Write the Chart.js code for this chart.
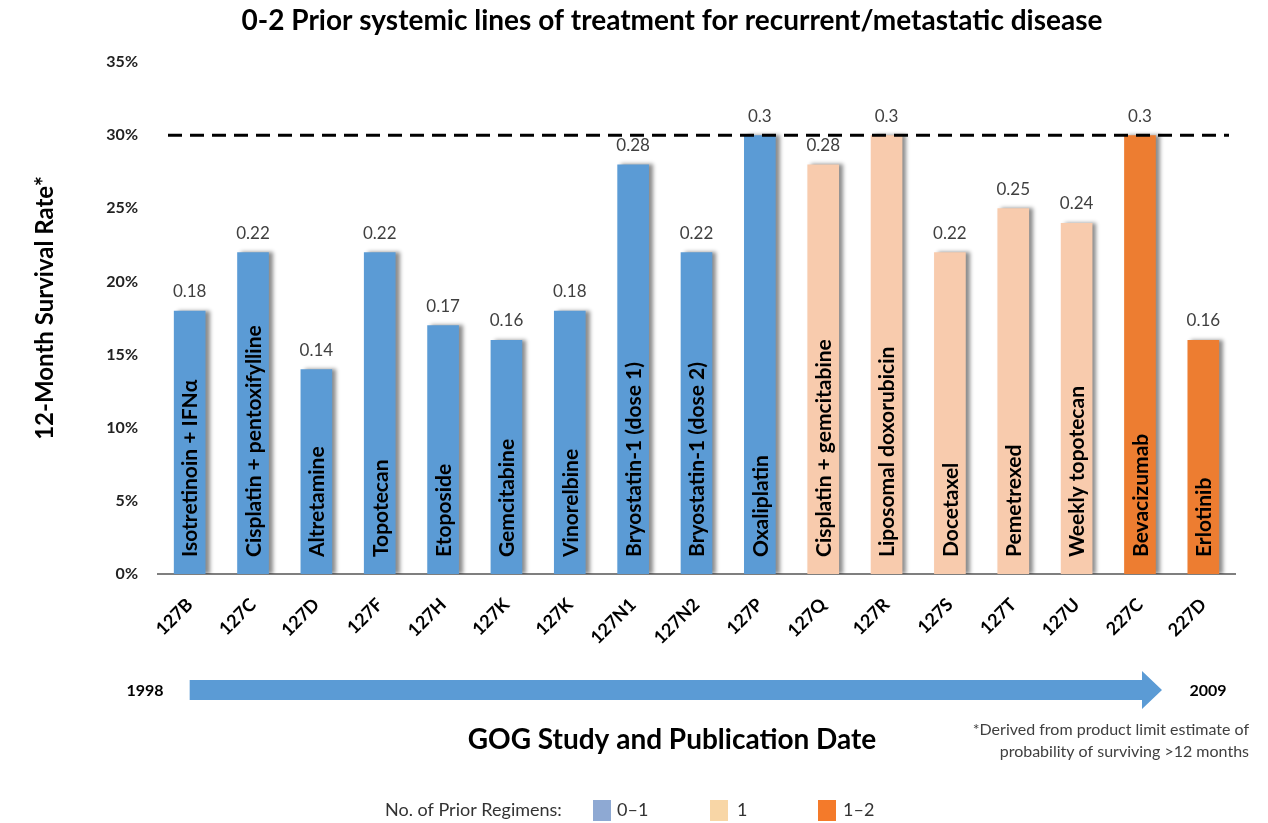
<!DOCTYPE html>
<html>
<head>
<meta charset="utf-8">
<script src="https://cdn.jsdelivr.net/npm/chart.js@4.4.1/dist/chart.umd.min.js"></script>
<style>
html,body{margin:0;padding:0;background:#fff;}
#wrap{width:1268px;height:823px;position:relative;}
</style>
</head>
<body>
<div id="wrap"><canvas id="c" width="1268" height="823"></canvas></div>
<script>
const studies = ["127B","127C","127D","127F","127H","127K","127K","127N1","127N2","127P","127Q","127R","127S","127T","127U","227C","227D"];
const survival = [0.18,0.22,0.14,0.22,0.17,0.16,0.18,0.28,0.22,0.30,0.28,0.30,0.22,0.25,0.24,0.30,0.16];
const drugs = ["Isotretinoin + IFN\u03b1","Cisplatin + pentoxifylline","Altretamine","Topotecan","Etoposide","Gemcitabine","Vinorelbine","Bryostatin-1 (dose 1)","Bryostatin-1 (dose 2)","Oxaliplatin","Cisplatin + gemcitabine","Liposomal doxorubicin","Docetaxel","Pemetrexed","Weekly topotecan","Bevacizumab","Erlotinib"];
const priorGroup = ["0\u20131","0\u20131","0\u20131","0\u20131","0\u20131","0\u20131","0\u20131","0\u20131","0\u20131","0\u20131","1","1","1","1","1","1\u20132","1\u20132"];
const groupNames = ["0\u20131","1","1\u20132"];
const groupColors = ["#5B9BD5","#F8CBAD","#ED7D31"];
const legendColors = ["#8EA9D3","#F8D6A6","#F47A2A"];
const yTicks = [0,0.05,0.10,0.15,0.20,0.25,0.30,0.35];
const referenceLine = 0.30;
const titleText = "0-2 Prior systemic lines of treatment for recurrent/metastatic disease";
const yTitle = "12-Month Survival Rate*";
const xTitle = "GOG Study and Publication Date";
const startYear = "1998", endYear = "2009";
const footnote = ["*Derived from product limit estimate of","probability of surviving >12 months"];
const legendTitle = "No. of Prior Regimens:";

const FONT = "Lato, 'Open Sans', sans-serif";
const barColors = priorGroup.map(g => groupColors[groupNames.indexOf(g)]);

const annot = {
  id: 'annot',
  beforeDatasetDraw(chart){
    const ctx = chart.ctx;
    ctx.save();
    ctx.shadowColor = 'rgba(0,0,0,0.45)';
    ctx.shadowOffsetX = 4;
    ctx.shadowOffsetY = 0;
    ctx.shadowBlur = 4;
  },
  afterDatasetDraw(chart){
    chart.ctx.restore();
  },
  afterDatasetsDraw(chart){
    const ctx = chart.ctx;
    const meta = chart.getDatasetMeta(0);
    const ys = chart.scales.y;
    const area = chart.chartArea;
    ctx.save();
    // value labels
    ctx.font = "17px " + FONT;
    ctx.fillStyle = "#404040";
    ctx.textAlign = "center";
    ctx.textBaseline = "middle";
    meta.data.forEach((bar, i) => {
      ctx.fillText(String(survival[i]), bar.x, bar.y - 19);
    });
    // in-bar drug names
    ctx.font = "bold 21px " + FONT;
    ctx.fillStyle = "#000";
    ctx.textAlign = "left";
    meta.data.forEach((bar, i) => {
      ctx.save();
      ctx.translate(bar.x + 1, area.bottom - 17);
      ctx.rotate(-Math.PI/2);
      ctx.fillText(drugs[i], 0, 0);
      ctx.restore();
    });
    // dashed reference line
    const yr = ys.getPixelForValue(referenceLine);
    ctx.strokeStyle = "#000";
    ctx.lineWidth = 3;
    ctx.setLineDash([14, 8]);
    ctx.beginPath();
    ctx.moveTo(area.left + 10, yr);
    ctx.lineTo(area.right - 6, yr);
    ctx.stroke();
    ctx.restore();
  },
  afterDraw(chart){
    const ctx = chart.ctx;
    const meta = chart.getDatasetMeta(0);
    ctx.save();
    // title
    ctx.fillStyle = "#000";
    ctx.textAlign = "center";
    ctx.textBaseline = "middle";
    ctx.font = "bold 28px " + FONT;
    ctx.fillText(titleText, 672, 21);
    // y title
    ctx.save();
    ctx.translate(45, 308);
    ctx.rotate(-Math.PI/2);
    ctx.font = "bold 24px " + FONT;
    ctx.fillText(yTitle, 0, 0);
    ctx.restore();
    // arrow
    const x0 = meta.data[0].x, tip = 1162, headBase = 1142, ay = 690;
    ctx.fillStyle = "#5B9BD5";
    ctx.beginPath();
    ctx.moveTo(x0, ay - 10);
    ctx.lineTo(headBase, ay - 10);
    ctx.lineTo(headBase, ay - 19);
    ctx.lineTo(tip, ay);
    ctx.lineTo(headBase, ay + 19);
    ctx.lineTo(headBase, ay + 10);
    ctx.lineTo(x0, ay + 10);
    ctx.closePath();
    ctx.fill();
    ctx.fillStyle = "#000";
    ctx.font = "bold 16px " + FONT;
    ctx.fillText(startYear, 145, 691);
    ctx.fillText(endYear, 1208, 691);
    // x title
    ctx.font = "bold 28px " + FONT;
    ctx.fillText(xTitle, 672, 740);
    // footnote
    ctx.font = "16px " + FONT;
    ctx.fillStyle = "#404040";
    ctx.textAlign = "right";
    ctx.fillText(footnote[0], 1249, 730);
    ctx.fillText(footnote[1], 1249, 752);
    // legend
    ctx.textAlign = "left";
    ctx.fillStyle = "#333";
    ctx.font = "18px " + FONT;
    ctx.fillText(legendTitle, 385, 810);
    const sw = [593, 710, 818];
    const tx = [617, 737, 843];
    groupNames.forEach((g, i) => {
      ctx.fillStyle = legendColors[i];
      ctx.fillRect(sw[i], 800, 18, 21);
      ctx.fillStyle = "#333";
      ctx.fillText(g, tx[i], 810);
    });
    ctx.restore();
  }
};

new Chart(document.getElementById('c'), {
  type: 'bar',
  data: {
    labels: studies,
    datasets: [{
      data: survival,
      backgroundColor: barColors,
      borderWidth: 0,
      barPercentage: 0.5,
      categoryPercentage: 1.0
    }]
  },
  options: {
    responsive: false,
    animation: false,
    events: [],
    layout: { padding: { top: 62, right: 33, left: 0, bottom: 0 } },
    plugins: { legend: { display: false }, tooltip: { enabled: false } },
    scales: {
      x: {
        grid: { display: false, drawTicks: false },
        border: { display: true, color: "#7F7F7F", width: 2 },
        ticks: {
          autoSkip: false, minRotation: 45, maxRotation: 45, padding: 20,
          color: "#000", font: { family: FONT, size: 18, weight: "bold" }
        },
        afterFit(s){ s.height = 249; }
      },
      y: {
        min: 0, max: 0.35,
        grid: { display: false, drawTicks: false },
        border: { display: false },
        afterBuildTicks(s){ s.ticks = yTicks.map(v => ({ value: v })); },
        ticks: {
          padding: 20, color: "#222",
          font: { family: FONT, size: 16, weight: "bold" },
          callback: v => Math.round(v * 100) + "%"
        },
        afterFit(s){ s.width = 158; }
      }
    }
  },
  plugins: [annot]
});
</script>
</body>
</html>
